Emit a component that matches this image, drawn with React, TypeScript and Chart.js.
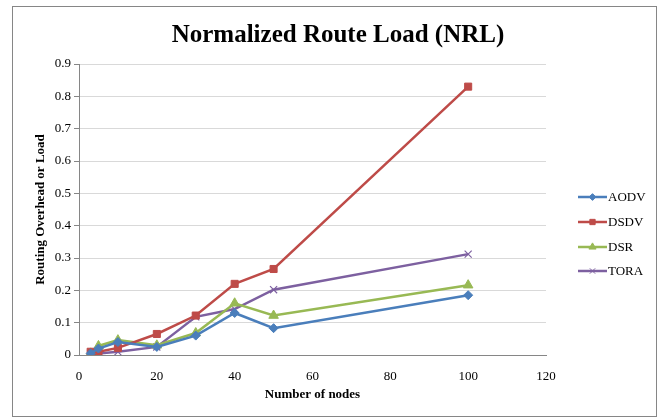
import React, { useEffect, useRef } from "react";
import { Chart, registerables } from "chart.js";
import { drawPoint } from "chart.js/helpers";

Chart.register(...registerables);

// Number of nodes in each simulation run
const nodeCounts = [3, 5, 10, 20, 30, 40, 50, 100];

// Normalized routing load per protocol
const aodvLoad = [0.005, 0.02, 0.04, 0.025, 0.06, 0.13, 0.083, 0.185];
const dsdvLoad = [0.01, 0.01, 0.022, 0.065, 0.122, 0.22, 0.266, 0.83];
const dsrLoad = [0.005, 0.028, 0.046, 0.03, 0.068, 0.16, 0.122, 0.216];
const toraLoad = [0.003, 0.005, 0.01, 0.025, 0.118, 0.142, 0.202, 0.312];

const protocolNames = ["AODV", "DSDV", "DSR", "TORA"];
const protocolColors = ["#4A7EBB", "#BE4B48", "#98B954", "#7D60A0"];
const markerStyles = ["rectRot", "rect", "triangle", "crossRot"];
const markerRadii = [4.5, 5, 5.5, 5];

const xTicks = [0, 20, 40, 60, 80, 100, 120];
const yTicks = [0, 0.1, 0.2, 0.3, 0.4, 0.5, 0.6, 0.7, 0.8, 0.9];

const SERIF = "'Liberation Serif', 'Times New Roman', serif";

const framePlugin = {
  id: "frameAndLegend",
  beforeDraw(chart: Chart) {
    const ctx = chart.ctx;
    ctx.save();
    ctx.fillStyle = "#ffffff";
    ctx.fillRect(0, 0, chart.width, chart.height);
    ctx.strokeStyle = "#868686";
    ctx.lineWidth = 1;
    ctx.strokeRect(12.5, 6.5, 644, 410);
    ctx.restore();
  },
  afterDraw(chart: Chart) {
    const ctx = chart.ctx;
    ctx.save();
    // chart title
    ctx.fillStyle = "#000000";
    ctx.font = `bold 25px ${SERIF}`;
    ctx.textAlign = "center";
    ctx.textBaseline = "alphabetic";
    ctx.fillText("Normalized Route Load (NRL)", 338, 42);

    // legend: line sample with marker, then the series name
    const rows = [197, 222, 247, 271];
    chart.data.datasets.forEach((ds: any, i: number) => {
      const y = rows[i];
      ctx.strokeStyle = ds.borderColor;
      ctx.lineWidth = 2.5;
      ctx.beginPath();
      ctx.moveTo(578, y);
      ctx.lineTo(607, y);
      ctx.stroke();
      ctx.fillStyle = ds.pointBackgroundColor;
      ctx.strokeStyle = ds.pointBorderColor;
      ctx.lineWidth = 1;
      drawPoint(ctx, { pointStyle: ds.pointStyle, radius: ds.pointRadius * 0.75, rotation: 0, borderWidth: 1 } as any, 592.5, y);
      ctx.fillStyle = "#000000";
      ctx.font = `13px ${SERIF}`;
      ctx.textAlign = "left";
      ctx.textBaseline = "middle";
      ctx.fillText(protocolNames[i], 608, y + 1);
    });
    ctx.restore();
  },
};

export default function App() {
  const canvasRef = useRef<HTMLCanvasElement | null>(null);

  useEffect(() => {
    const canvas = canvasRef.current;
    if (!canvas) return;
    const series = [aodvLoad, dsdvLoad, dsrLoad, toraLoad];
    const chart = new Chart(canvas, {
      type: "line",
      data: {
        datasets: series.map((values, i) => ({
          label: protocolNames[i],
          data: nodeCounts.map((n, j) => ({ x: n, y: values[j] })),
          borderColor: protocolColors[i],
          backgroundColor: protocolColors[i],
          pointBackgroundColor: protocolColors[i],
          pointBorderColor: protocolColors[i],
          pointStyle: markerStyles[i] as any,
          pointRadius: markerRadii[i],
          pointBorderWidth: markerStyles[i] === "crossRot" ? 1.2 : 1,
          borderWidth: 2.5,
          tension: 0,
          fill: false,
        })),
      },
      options: {
        animation: false,
        responsive: false,
        devicePixelRatio: 1,
        layout: { padding: { left: 0, top: 64, right: 118, bottom: 0 } },
        plugins: {
          legend: { display: false },
          title: { display: false },
          tooltip: { enabled: false },
        },
        scales: {
          x: {
            type: "linear",
            min: 0,
            max: 120,
            afterBuildTicks: (scale: any) => {
              scale.ticks = xTicks.map((v) => ({ value: v }));
            },
            afterFit: (scale: any) => {
              scale.height = 63;
            },
            grid: { display: false },
            border: { display: true, color: "#868686", width: 1 },
            ticks: {
              color: "#000000",
              font: { family: SERIF, size: 13 },
              padding: 6,
              maxRotation: 0,
            },
            title: {
              display: true,
              text: "Number of nodes",
              color: "#000000",
              font: { family: SERIF, size: 13, weight: "bold" },
              padding: { top: 0, bottom: 16 },
            },
          },
          y: {
            type: "linear",
            min: 0,
            max: 0.9,
            afterBuildTicks: (scale: any) => {
              scale.ticks = yTicks.map((v) => ({ value: v }));
            },
            afterFit: (scale: any) => {
              scale.width = 79;
            },
            grid: {
              color: "#d9d9d9",
              lineWidth: 1,
              drawTicks: true,
              tickLength: 5,
              tickColor: "#868686",
            },
            border: { display: true, color: "#868686", width: 1 },
            ticks: {
              color: "#000000",
              font: { family: SERIF, size: 13 },
              padding: 3,
              callback: (v: any) => (Number(v) === 0 ? "0" : Number(v).toFixed(1)),
            },
            title: {
              display: true,
              text: "Routing Overhead or Load",
              color: "#000000",
              font: { family: SERIF, size: 13, weight: "bold" },
              padding: { top: 33, bottom: 0 },
            },
          },
        },
      },
      plugins: [framePlugin],
    });
    return () => chart.destroy();
  }, []);

  return (
    <div style={{ position: "fixed", left: 0, top: 0, width: 664, height: 418, background: "#ffffff" }}>
      <canvas ref={canvasRef} width={664} height={418} style={{ display: "block", width: 664, height: 418 }} />
    </div>
  );
}
